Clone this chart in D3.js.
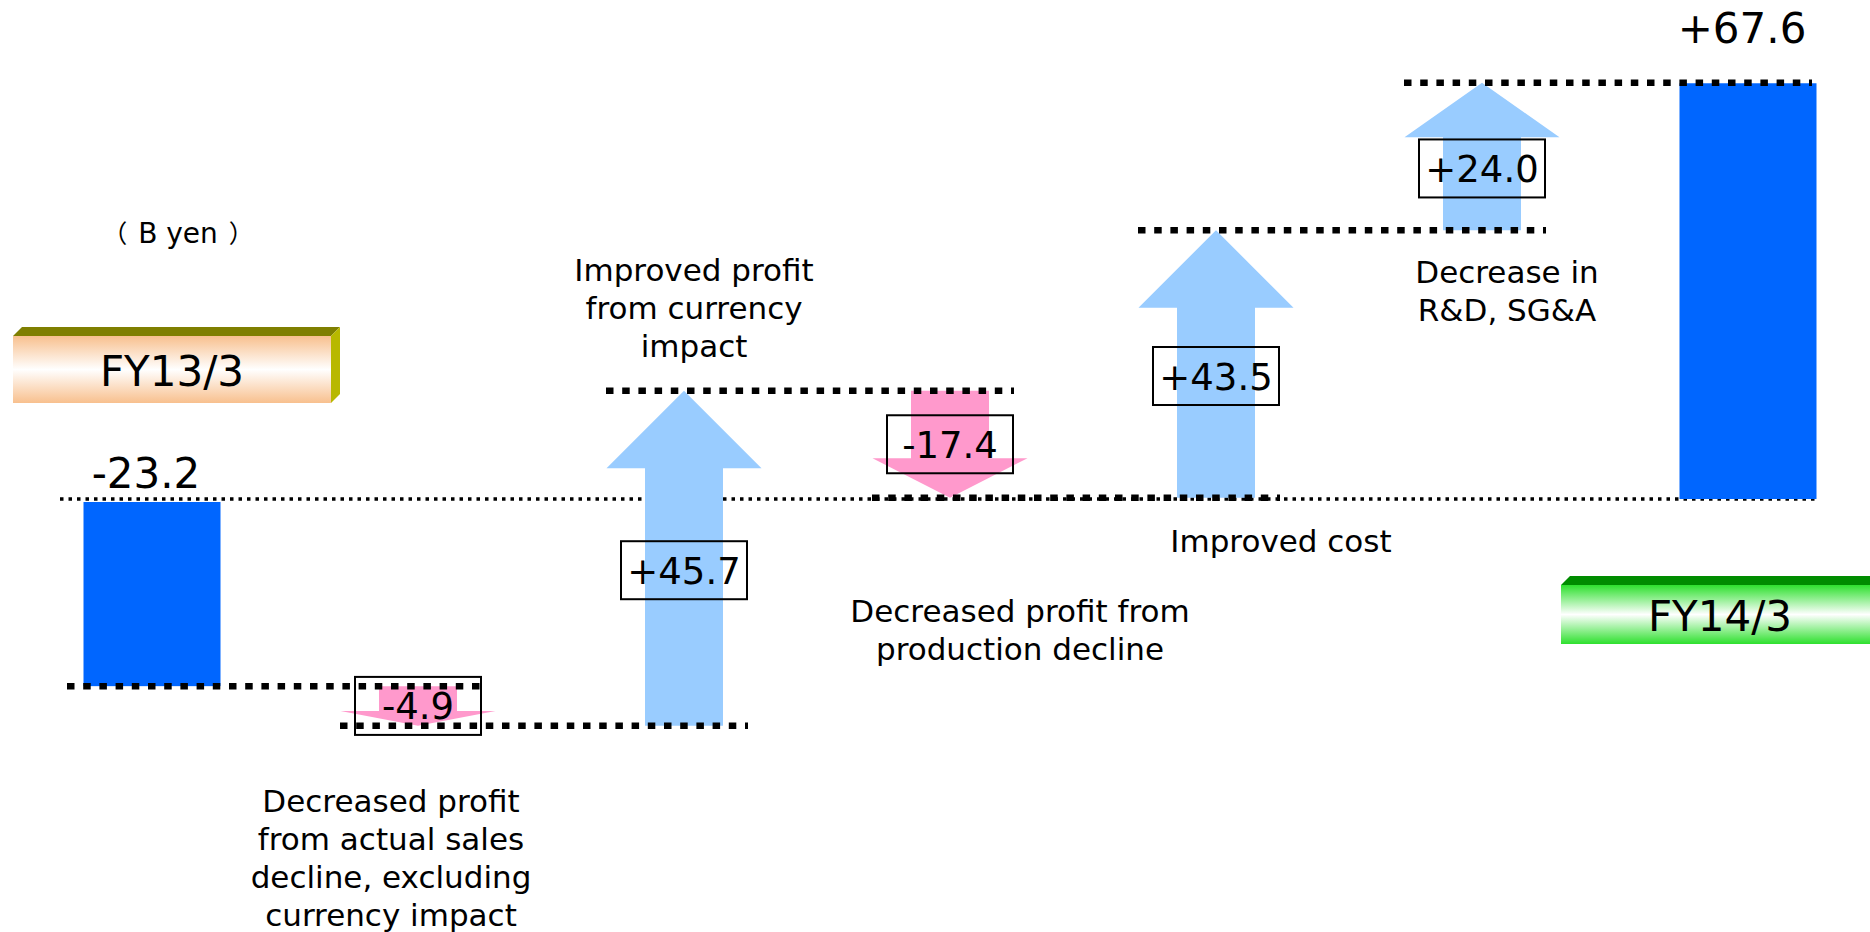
<!DOCTYPE html>
<html>
<head>
<meta charset="utf-8">
<script src="https://cdn.jsdelivr.net/npm/d3@7"></script>
<style>
  body { margin: 0; background: #fff; }
  svg { display: block; font-family: Verdana, "DejaVu Sans", sans-serif; }
</style>
</head>
<body>
<svg id="chart"></svg>
<script>
// operating profit bridge, B yen
const unitLabel = ["（", "B yen", "）"];
const steps = ["FY13/3", "sales", "currency", "production", "cost", "expenses", "FY14/3"];
const stepKinds = ["total", "delta", "delta", "delta", "delta", "delta", "total"];
const stepValues = [-23.2, -4.9, 45.7, -17.4, 43.5, 24.0, 67.6];
const valueLabels = ["-23.2", "-4.9", "+45.7", "-17.4", "+43.5", "+24.0", "+67.6"];
const stepDescriptions = [
    [],
    ["Decreased profit", "from actual sales", "decline, excluding", "currency impact"],
    ["Improved profit", "from currency", "impact"],
    ["Decreased profit from", "production decline"],
    ["Improved cost"],
    ["Decrease in", "R&D, SG&A"],
    []
];
const yDomain = [-30, 0, 70];

class Waterfall {
    margin = {
        top: 68.5, right: 122, bottom: 191, left: 152
    }
    zeroY = 499; // the slide is drawn with a tighter scale above zero than below

    constructor(svg, width = 1870, height = 932) {
        this.svg = svg;
        this.width = width;
        this.height = height;
        this.barWidth = 137;
        this.shaftWidth = 78;
        this.headWidth = 155;
        this.boxWidth = 126;
        this.boxHeight = 58;
        // where each description sits relative to its arrow
        this.descPlacement = [null,
            { dx: -27, side: "below", dy: 86 },
            { dx: 10, side: "above", dy: 34 },
            { dx: 70, side: "below", dy: 124 },
            { dx: 65, side: "below", dy: 54 },
            { dx: 25, side: "below", dy: 53 },
            null];
    }

    initialize() {
        this.svg = d3.select(this.svg)
            .attr("width", this.width)
            .attr("height", this.height);

        this.defs = this.svg.append("defs");
        this.deco = this.svg.append("g");
        this.zeroLine = this.svg.append("g");
        this.arrows = this.svg.append("g");
        this.bars = this.svg.append("g");
        this.connectors = this.svg.append("g");
        this.labels = this.svg.append("g");

        this.xScale = d3.scalePoint()
            .domain(steps)
            .range([this.margin.left, this.width - this.margin.right]);
        this.yScale = d3.scaleLinear()
            .domain(yDomain)
            .range([this.height - this.margin.bottom, this.zeroY, this.margin.top]);

        this.gradient("peach", "#f8c08e");
        this.gradient("green", "#2ee02e");
    }

    gradient(id, color) {
        const g = this.defs.append("linearGradient")
            .attr("id", id).attr("x1", 0).attr("x2", 0).attr("y1", 0).attr("y2", 1);
        g.append("stop").attr("offset", "0%").attr("stop-color", color);
        g.append("stop").attr("offset", "50%").attr("stop-color", "#ffffff");
        g.append("stop").attr("offset", "100%").attr("stop-color", color);
    }

    // 3D-looking period tag like the slide
    periodTag(cx, top, h, text, fill, topColor, sideColor) {
        const w = 318, d = 9, x0 = cx - w / 2;
        const g = this.deco.append("g");
        g.append("path")
            .attr("d", `M${x0},${top} L${x0 + d},${top - d} L${x0 + w + d},${top - d} L${x0 + w},${top} Z`)
            .attr("fill", topColor);
        g.append("path")
            .attr("d", `M${x0 + w},${top} L${x0 + w + d},${top - d} L${x0 + w + d},${top + h - d} L${x0 + w},${top + h} Z`)
            .attr("fill", sideColor);
        g.append("rect")
            .attr("x", x0).attr("y", top).attr("width", w).attr("height", h)
            .attr("fill", `url(#${fill})`);
        g.append("text")
            .attr("x", cx).attr("y", top + h / 2 + 16)
            .attr("text-anchor", "middle")
            .attr("font-size", 42)
            .text(text);
    }

    arrowPath(cx, yFrom, yTo) {
        const dir = yTo > yFrom ? 1 : -1;
        const len = Math.abs(yTo - yFrom);
        const head = Math.min(0.37 * len, this.headWidth / 2);
        const sw = this.shaftWidth / 2, hw = this.headWidth / 2;
        const yb = yTo - dir * head;
        return d3.line()([
            [cx - sw, yFrom], [cx - sw, yb], [cx - hw, yb], [cx, yTo],
            [cx + hw, yb], [cx + sw, yb], [cx + sw, yFrom]
        ]) + "Z";
    }

    update() {
        const x = this.xScale, y = this.yScale;

        // running totals
        let level = 0;
        const data = steps.map((s, i) => {
            let start, end;
            if (stepKinds[i] === "total") {
                start = 0; end = stepValues[i]; level = stepValues[i];
            } else {
                start = level; end = level + stepValues[i]; level = end;
            }
            return { step: s, i, kind: stepKinds[i], value: stepValues[i], start, end, level };
        });

        // period tags + unit
        this.periodTag(x(steps[0]) + 20, this.zeroY - 163, 67, steps[0], "peach", "#7f7f00", "#b8b800");
        this.periodTag(x(steps[6]) - 28, this.zeroY + 86, 59, steps[6], "green", "#008c00", "#008c00");
        const unit = this.deco.append("text")
            .attr("x", x(steps[0]) + 26).attr("y", this.zeroY - 256)
            .attr("text-anchor", "middle")
            .attr("font-size", 28);
        unit.selectAll("tspan")
            .data(unitLabel)
            .join("tspan")
            .attr("font-family", (t, k) => k === 1 ? null : "'Noto Sans CJK JP'")
            .attr("font-size", (t, k) => k === 1 ? null : 25)
            .attr("dx", (t, k) => k === 0 ? 0 : 11)
            .text(t => t);

        // thin zero line
        const [r0, r1] = x.range();
        this.zeroLine.append("line")
            .attr("x1", r0 - 92).attr("x2", r1 + 69)
            .attr("y1", y(0)).attr("y2", y(0))
            .attr("stroke", "#000").attr("stroke-width", 3.5)
            .attr("stroke-dasharray", "3.5,5");

        const deltas = data.filter(d => d.kind === "delta");
        const totals = data.filter(d => d.kind === "total");

        this.arrows.selectAll("path")
            .data(deltas)
            .join("path")
            .attr("d", d => this.arrowPath(x(d.step), y(d.start), y(d.end)))
            .attr("fill", d => d.value >= 0 ? "#99ccff" : "#ff99cc");

        this.bars.selectAll("rect")
            .data(totals)
            .join("rect")
            .attr("x", d => x(d.step) - this.barWidth / 2)
            .attr("y", d => y(Math.max(0, d.value)) + (d.value < 0 ? 3 : 0))
            .attr("width", this.barWidth)
            .attr("height", d => Math.abs(y(d.value) - y(0)) - (d.value < 0 ? 3 : 0))
            .attr("fill", "#0066ff");

        // thick dotted connectors between neighbouring steps
        this.connectors.selectAll("line")
            .data(data.slice(0, -1))
            .join("line")
            .attr("x1", d => x(d.step) - (d.i === 0 ? 85 : 78))
            .attr("x2", d => x(steps[d.i + 1]) + 64)
            .attr("y1", d => y(d.level))
            .attr("y2", d => y(d.level))
            .attr("stroke", "#000").attr("stroke-width", 6.5)
            .attr("stroke-dasharray", "7.5,8.7");

        // boxed values on arrows
        const boxes = this.labels.selectAll("g.box")
            .data(deltas)
            .join("g")
            .attr("class", "box")
            .attr("transform", d => {
                const mid = (y(d.start) + y(d.end)) / 2 + (d.value >= 0 ? 12 : 0);
                return `translate(${x(d.step)},${mid})`;
            });
        boxes.append("rect")
            .attr("x", -this.boxWidth / 2).attr("y", -this.boxHeight / 2)
            .attr("width", this.boxWidth).attr("height", this.boxHeight)
            .attr("fill", "none").attr("stroke", "#000").attr("stroke-width", 2);
        boxes.append("text")
            .attr("y", 13.5)
            .attr("text-anchor", "middle")
            .attr("font-size", 37)
            .text(d => valueLabels[d.i]);

        // total values
        this.labels.selectAll("text.total")
            .data(totals)
            .join("text")
            .attr("class", "total")
            .attr("x", d => x(d.step) - 6)
            .attr("y", d => d.value < 0 ? y(0) - 11 : y(d.value) - 40)
            .attr("text-anchor", "middle")
            .attr("font-size", 42)
            .text(d => valueLabels[d.i]);

        // step descriptions
        const lh = 38;
        deltas.forEach(d => {
            const p = this.descPlacement[d.i];
            const lines = stepDescriptions[d.i];
            const lower = Math.max(y(d.start), y(d.end));
            const upper = Math.min(y(d.start), y(d.end));
            const first = p.side === "below"
                ? lower + p.dy
                : upper - p.dy - (lines.length - 1) * lh;
            const t = this.labels.append("text")
                .attr("text-anchor", "middle")
                .attr("font-size", 31);
            t.selectAll("tspan")
                .data(lines)
                .join("tspan")
                .attr("x", x(d.step) + p.dx)
                .attr("y", (l, k) => first + k * lh)
                .text(l => l);
        });
    }
}

const chart = new Waterfall(document.getElementById("chart"));
chart.initialize();
chart.update();
</script>
</body>
</html>
